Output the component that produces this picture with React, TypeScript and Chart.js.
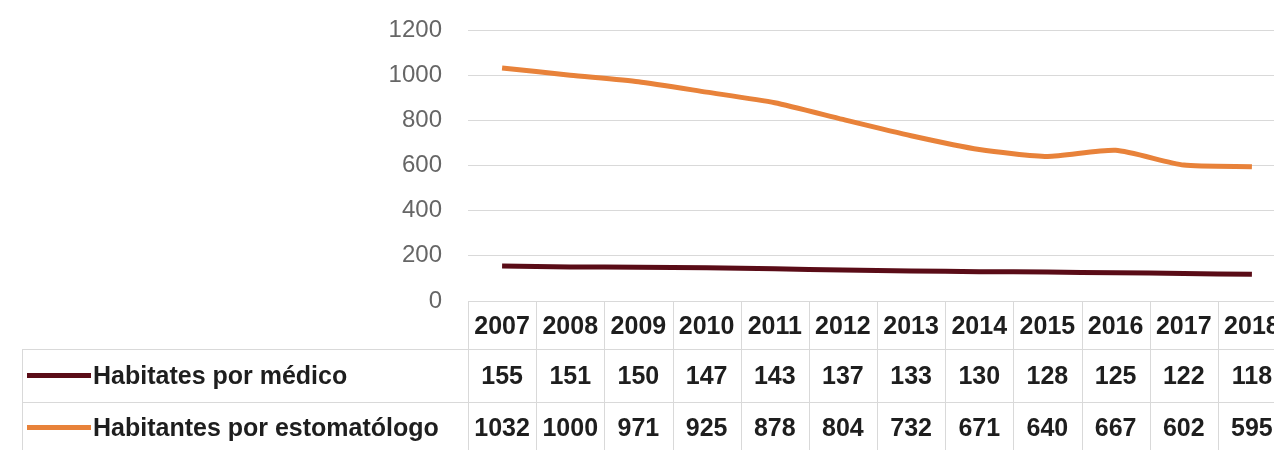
import React, { useEffect, useRef } from "react";
import { Chart, registerables } from "chart.js";

Chart.register(...registerables);

const years = ["2007", "2008", "2009", "2010", "2011", "2012", "2013", "2014", "2015", "2016", "2017", "2018"];
const medico = [155, 151, 150, 147, 143, 137, 133, 130, 128, 125, 122, 118];
const estomatologo = [1032, 1000, 971, 925, 878, 804, 732, 671, 640, 667, 602, 595];
const seriesNames = ["Habitates por médico", "Habitantes por estomatólogo"];
const seriesColors = ["#5a0c17", "#e8823a"];
const yTicks = [0, 200, 400, 600, 800, 1000, 1200];

const TABLE_FONT = "bold 25px 'Liberation Sans', Arial, sans-serif";

const tablePlugin = {
  id: "dataTable",
  afterDraw(chart: any) {
    const { ctx, chartArea } = chart;
    const { left, right, bottom } = chartArea;
    const xs = chart.scales.x;
    const n = years.length;
    const colW = (right - left) / n;
    const headerBottom = bottom + 48;
    const row1Bottom = headerBottom + 53;
    const row2Bottom = row1Bottom + 53;
    const tableLeft = 22;
    ctx.save();
    ctx.strokeStyle = "#d9d9d9";
    ctx.lineWidth = 1;
    ctx.beginPath();
    for (let i = 0; i <= n; i++) {
      const xx = Math.round(left + i * colW) + 0.5;
      ctx.moveTo(xx, bottom);
      ctx.lineTo(xx, row2Bottom);
    }
    ctx.moveTo(tableLeft, Math.round(headerBottom) + 0.5);
    ctx.lineTo(right, Math.round(headerBottom) + 0.5);
    ctx.moveTo(tableLeft, Math.round(row1Bottom) + 0.5);
    ctx.lineTo(right, Math.round(row1Bottom) + 0.5);
    ctx.moveTo(tableLeft + 0.5, headerBottom);
    ctx.lineTo(tableLeft + 0.5, row2Bottom);
    ctx.stroke();

    ctx.font = TABLE_FONT;
    ctx.fillStyle = "#1e1e1e";
    ctx.textAlign = "center";
    ctx.textBaseline = "middle";
    const yHeader = (bottom + headerBottom) / 2 + 2;
    const yRow1 = (headerBottom + row1Bottom) / 2 + 2;
    const yRow2 = (row1Bottom + row2Bottom) / 2 + 1;
    years.forEach((yr, i) => {
      const cx = xs.getPixelForValue(i);
      ctx.fillText(yr, cx, yHeader);
      ctx.fillText(String(medico[i]), cx, yRow1);
      ctx.fillText(String(estomatologo[i]), cx, yRow2);
    });

    // legend keys
    const rowsY = [yRow1 - 2, yRow2 - 2];
    rowsY.forEach((ry, k) => {
      ctx.strokeStyle = seriesColors[k];
      ctx.lineWidth = 5;
      ctx.lineCap = "butt";
      ctx.beginPath();
      ctx.moveTo(27, ry);
      ctx.lineTo(91, ry);
      ctx.stroke();
      ctx.fillStyle = "#1e1e1e";
      ctx.textAlign = "left";
      ctx.fillText(seriesNames[k], 93, ry + 2);
    });
    ctx.restore();
  },
};

export default function App() {
  const ref = useRef<HTMLCanvasElement | null>(null);
  useEffect(() => {
    if (!ref.current) return;
    const chart = new Chart(ref.current, {
      type: "line",
      data: {
        labels: years,
        datasets: [
          {
            label: seriesNames[0],
            data: medico,
            borderColor: seriesColors[0],
            backgroundColor: seriesColors[0],
            borderWidth: 5,
            pointRadius: 0,
            tension: 0.2,
          },
          {
            label: seriesNames[1],
            data: estomatologo,
            borderColor: seriesColors[1],
            backgroundColor: seriesColors[1],
            borderWidth: 5,
            pointRadius: 0,
            tension: 0.2,
          },
        ],
      },
      options: {
        animation: false,
        responsive: false,
        devicePixelRatio: 1,
        layout: { padding: { left: 0, right: 14, top: 30, bottom: 149 } },
        plugins: { legend: { display: false }, tooltip: { enabled: false } },
        scales: {
          x: {
            display: false,
            offset: true,
          },
          y: {
            min: 0,
            max: 1200,
            afterBuildTicks: (scale: any) => {
              scale.ticks = yTicks.map((v) => ({ value: v }));
            },
            afterFit: (scale: any) => {
              scale.width = 468;
              scale.paddingTop = 0;
              scale.paddingBottom = 0;
            },
            border: { display: false },
            grid: { color: "#d9d9d9", lineWidth: 1, drawTicks: false },
            ticks: {
              padding: 26,
              color: "#666666",
              font: { family: "'Liberation Sans', Arial, sans-serif", size: 24 },
              callback: (v: any) => String(v),
            },
          },
        },
      },
      plugins: [tablePlugin],
    });
    return () => chart.destroy();
  }, []);
  return (
    <div style={{ position: "fixed", left: 0, top: 0, width: 1274, height: 450, overflow: "hidden", background: "#fff" }}>
      <canvas ref={ref} width={1300} height={450} style={{ display: "block", width: 1300, height: 450 }} />
    </div>
  );
}
